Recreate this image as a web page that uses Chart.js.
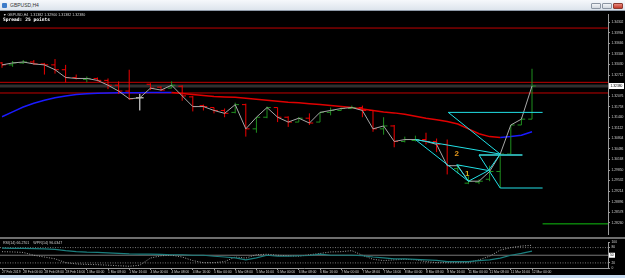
<!DOCTYPE html>
<html>
<head>
<meta charset="utf-8">
<script src="https://cdn.jsdelivr.net/npm/chart.js@4.4.1/dist/chart.umd.min.js"></script>
<style>
  html, body { margin: 0; padding: 0; background: #c5d9ee; }
  #win { position: relative; width: 625px; height: 278px; overflow: hidden; background: #c5d9ee; }
  #title { position: absolute; left: 0; top: 0; width: 625px; height: 11px; box-sizing: border-box;
           background: linear-gradient(#f6f8fb, #dde4ec); border-bottom: 1px solid #8f9aa8; }
  #title .ico { position: absolute; left: 2px; top: 3px; width: 5px; height: 5px; background: #3d7cc9; border-radius: 1px; }
  #title .txt { position: absolute; left: 10px; top: 1px; font: 5px "Liberation Sans", sans-serif; color: #333; line-height: 8px; }
  #title .btn { position: absolute; top: 3px; width: 10px; height: 6px; box-sizing: border-box;
                border: 1px solid #8c96a3; background: linear-gradient(#f2f4f7, #d3d9e0); border-radius: 1px; }
  #title .close { background: linear-gradient(#e8887c, #c23a2b); border-color: #8c3a30; }
  #main { position: absolute; left: 0; top: 11px; background: #000; }
  #sep { position: absolute; left: 0; top: 237px; width: 625px; height: 2px; background: #6e6e6e; }
  #ind { position: absolute; left: 0; top: 239px; background: #000; }
</style>
</head>
<body>
<div id="win">
  <div id="title">
    <div class="ico"></div><div class="txt">GBPUSD,H4</div>
    <div class="btn" style="left:591px"></div>
    <div class="btn" style="left:602px"></div>
    <div class="btn close" style="left:613px"></div>
  </div>
  <canvas id="main" width="625" height="227"></canvas>
  <div id="sep"></div>
  <canvas id="ind" width="625" height="36"></canvas>
</div>
<script>
// GBPUSD H4, 27 Feb 16:00 .. 12 Mar 00:00 (one entry per bar)
const opens  = [1.33075,1.33017,1.33075,1.33104,1.33046,1.33017,1.32871,1.32637,1.32579,1.32608,
                1.32550,1.32404,1.32228,1.32024,1.32433,1.32345,1.32316,1.32374,1.32053,1.31790,
                1.31732,1.31644,1.31586,1.31820,1.31090,1.31440,1.31732,1.31440,1.31294,1.31411,
                1.31294,1.31586,1.31644,1.31703,1.31732,1.31644,1.31090,1.31177,1.30710,1.30739,
                1.30768,1.30710,1.30622,1.29892,1.29454,1.29484,1.29571,1.29805,1.30330,1.31206,
                1.31382];
const highs  = [1.33104,1.33134,1.33163,1.33163,1.33075,1.33192,1.33017,1.32725,1.32666,1.32637,
                1.32608,1.32520,1.32871,1.32141,1.32462,1.32374,1.32520,1.32404,1.32082,1.31820,
                1.31732,1.31703,1.31878,1.31849,1.31440,1.31761,1.31732,1.31469,1.31440,1.31557,
                1.31586,1.31732,1.31732,1.31790,1.31790,1.31644,1.31440,1.31206,1.30856,1.30885,
                1.30973,1.30798,1.30768,1.30009,1.29659,1.29571,1.29980,1.30330,1.31206,1.31440,
                1.32900];
const lows   = [1.32929,1.32958,1.33046,1.33017,1.32725,1.32754,1.32491,1.32579,1.32491,1.32520,
                1.32287,1.32141,1.31966,1.31644,1.32258,1.32228,1.32316,1.31936,1.31615,1.31644,
                1.31557,1.31440,1.31557,1.30856,1.30973,1.31411,1.31294,1.31148,1.31294,1.31206,
                1.31294,1.31498,1.31644,1.31703,1.31440,1.31002,1.30914,1.30535,1.30681,1.30710,
                1.30622,1.30389,1.29717,1.29746,1.29425,1.29425,1.29513,1.29308,1.30301,1.31206,
                1.31382];
const closes = [1.33017,1.33075,1.33104,1.33046,1.33017,1.32871,1.32637,1.32608,1.32608,1.32550,
                1.32404,1.32228,1.31995,1.32024,1.32316,1.32258,1.32404,1.32082,1.31761,1.31761,
                1.31644,1.31557,1.31820,1.31090,1.31440,1.31732,1.31440,1.31294,1.31411,1.31265,
                1.31586,1.31644,1.31703,1.31732,1.31644,1.31090,1.31177,1.30710,1.30768,1.30768,
                1.30710,1.30622,1.29980,1.29980,1.29513,1.29513,1.29805,1.30330,1.31206,1.31382,
                1.32380];
// trend-coloured moving average
const maValues = [1.31455,1.31601,1.31747,1.31863,1.31951,1.32024,1.32082,1.32126,1.32147,1.32161,
                  1.32170,1.32176,1.32179,1.32181,1.32182,1.32184,1.32185,1.32155,1.32126,1.32097,
                  1.32068,1.32053,1.32039,1.32009,1.31980,1.31951,1.31922,1.31893,1.31878,1.31849,
                  1.31820,1.31790,1.31761,1.31732,1.31688,1.31644,1.31601,1.31571,1.31528,1.31469,
                  1.31411,1.31367,1.31309,1.31236,1.31090,1.30944,1.30856,1.30827,1.30856,1.30900,
                  1.31002];
// sub window
const rsiValues = [78,77,77,76,75,73,68,64,62,61,59,57,55,54,54,53,52,52,50,50,
                   46,43,40,32,40,50,46,46,48,49,54,50,50,50,48,43,40,36,36,34,
                   32,30,25,25,25,29,32,39,50,57,66];
const wprValues = [64,63,61,50,43,36,21,16,14,13,11,9,7,11,39,48,50,43,29,21,
                   21,25,43,39,52,54,50,48,46,52,57,63,64,68,50,34,29,32,34,32,
                   25,21,21,21,21,32,46,70,80,86,89];
const indLevels = [80, 50, 20];
const indTicks = [0, 20, 50, 80, 100];

// horizontal objects
const redLevels = [1.34126, 1.32491, 1.32170];
const greenLevel = 1.28228;
const greenStartBar = 51;
const bidPrice = 1.32380;

// drawn objects: [bar1, price1, bar2, price2]
const cyanLines = [
  [42.1, 1.31586, 51.0, 1.31586],
  [42.1, 1.31586, 47.0, 1.30330],
  [39.0, 1.30768, 47.0, 1.30330],
  [39.0, 1.30768, 44.0, 1.29513],
  [44.0, 1.29513, 45.9, 1.29834],
  [45.9, 1.29834, 47.0, 1.30330],
  [42.9, 1.30009, 45.9, 1.29834],
  [42.9, 1.30009, 44.0, 1.29513],
  [45.0, 1.30301, 47.0, 1.29308],
  [47.0, 1.29308, 51.0, 1.29308]
];
const tealLines = [[45.0, 1.30301, 49.1, 1.30301]];
const waveLabels = [
  { text: '2', bar: 42.9, price: 1.30330, color: '#e59a1c' },
  { text: '1', bar: 43.9, price: 1.29746, color: '#d9b21a' }
];

const timeLabels = ['27 Feb 2019','28 Feb 00:00','28 Feb 08:00','28 Feb 16:00','1 Mar 00:00','1 Mar 08:00',
  '1 Mar 16:00','4 Mar 00:00','4 Mar 08:00','4 Mar 16:00','5 Mar 00:00','5 Mar 08:00','5 Mar 16:00',
  '6 Mar 00:00','6 Mar 08:00','6 Mar 16:00','7 Mar 00:00','7 Mar 08:00','7 Mar 16:00','8 Mar 00:00',
  '8 Mar 08:00','8 Mar 16:00','11 Mar 00:00','11 Mar 08:00','11 Mar 16:00','12 Mar 00:00'];
const priceTicks = [1.34302,1.33984,1.33666,1.33348,1.33030,1.32712,1.32394,1.32076,1.31758,1.31440,
                    1.31122,1.30804,1.30486,1.30168,1.29850,1.29532,1.29214,1.28896,1.28578,1.28260];

const X_MIN = -0.19, X_MAX = 57.17;
const Y_MIN = 1.27907, Y_MAX = 1.34535;
const AXIS_W = 17;
const tickFont = { family: 'Liberation Sans', size: 3.3 };

function ohlcPoints(test) {
  const pts = [];
  closes.forEach((c, i) => {
    if (!test(opens[i], c)) return;
    pts.push({ x: i, y: lows[i] }, { x: i, y: highs[i] }, { x: i, y: null });
    pts.push({ x: i - 0.36, y: opens[i] }, { x: i, y: opens[i] }, { x: i, y: null });
    pts.push({ x: i, y: c }, { x: i + 0.36, y: c }, { x: i, y: null });
  });
  return pts;
}
function segPoints(list) {
  const pts = [];
  list.forEach(l => pts.push({ x: l[0], y: l[1] }, { x: l[2], y: l[3] }, { x: l[2], y: null }));
  return pts;
}
function hLine(v, from) { return [{ x: from === undefined ? X_MIN : from, y: v }, { x: X_MAX, y: v }]; }

const lineDs = (data, color, width, order, extra) => Object.assign({
  data, borderColor: color, borderWidth: width, pointRadius: 0, fill: false, order, spanGaps: false
}, extra || {});

const mainOverlay = {
  id: 'mainOverlay',
  afterDatasetsDraw(chart) {
    const { ctx, scales } = chart;
    ctx.save();
    waveLabels.forEach(w => {
      ctx.font = 'bold 8px "Liberation Sans"';
      ctx.fillStyle = w.color;
      ctx.textAlign = 'center';
      ctx.textBaseline = 'middle';
      ctx.fillText(w.text, scales.x.getPixelForValue(w.bar), scales.y.getPixelForValue(w.price));
    });
    ctx.restore();
  },
  afterDraw(chart) {
    const { ctx, scales } = chart;
    const n = closes.length - 1;
    ctx.save();
    ctx.fillStyle = '#d0d0d0';
    ctx.textBaseline = 'middle';
    ctx.textAlign = 'left';
    ctx.font = '3.6px "Liberation Sans"';
    ctx.fillText('\u25BC GBPUSD,H4  ' + [opens[n], highs[n], lows[n], closes[n]].map(v => v.toFixed(5)).join(' '), 3, 3.6);
    ctx.font = 'bold 4.6px "DejaVu Sans Mono"';
    ctx.fillStyle = '#ffffff';
    ctx.fillText('Spread: 25 points', 3, 9);
    // bid price tag on the axis
    const y = scales.y.getPixelForValue(bidPrice);
    const x0 = chart.chartArea.right + 1;
    ctx.fillStyle = '#ffffff';
    ctx.fillRect(x0, y - 3, 15, 6);
    ctx.fillStyle = '#000000';
    ctx.font = '3.3px "Liberation Sans"';
    ctx.fillText(bidPrice.toFixed(5), x0 + 1.5, y + 0.3);
    ctx.restore();
  }
};

new Chart(document.getElementById('main'), {
  type: 'line',
  data: {
    datasets: [
      lineDs(segPoints(tealLines), '#2aa6a6', 2, 1),
      lineDs(segPoints(cyanLines), '#22e0e6', 1, 0),
      lineDs(closes.map((c, i) => ({ x: i, y: c })), '#a8a8a8', 1, 2),
      lineDs(ohlcPoints((o, c) => c > o), '#1f8f1f', 1, 3),
      lineDs(ohlcPoints((o, c) => c < o), '#f00000', 1, 3),
      lineDs(ohlcPoints((o, c) => c === o), '#ffffff', 1, 3),
      lineDs(maValues.map((v, i) => ({ x: i, y: v })), '#e00000', 1.5, 4, {
        segment: { borderColor: s => s.p1.parsed.y >= s.p0.parsed.y ? '#1a1aff' : '#e00000' }
      }),
      ...redLevels.map(v => lineDs(hLine(v), '#c00000', 1, 5)),
      lineDs(hLine(greenLevel, greenStartBar), '#10c010', 1, 5),
      lineDs(hLine(bidPrice), '#303030', 3, 6)
    ]
  },
  options: {
    responsive: false, animation: false, devicePixelRatio: 1,
    layout: { padding: 0 },
    plugins: { legend: { display: false }, tooltip: { enabled: false } },
    elements: { point: { radius: 0 }, line: { tension: 0 } },
    scales: {
      x: { type: 'linear', display: false, min: X_MIN, max: X_MAX },
      y: {
        position: 'right', min: Y_MIN, max: Y_MAX,
        afterFit: s => { s.width = AXIS_W; },
        afterBuildTicks: s => { s.ticks = priceTicks.map(v => ({ value: v })); },
        ticks: { font: tickFont, color: '#d0d0d0', padding: 1.5, autoSkip: false,
                 callback: v => v.toFixed(5) },
        grid: { drawOnChartArea: false, tickLength: 2, color: '#9a9a9a' },
        border: { color: '#9a9a9a' }
      }
    }
  },
  plugins: [mainOverlay]
});

const indOverlay = {
  id: 'indOverlay',
  afterDraw(chart) {
    const { ctx, scales } = chart;
    ctx.save();
    ctx.fillStyle = '#d0d0d0';
    ctx.font = '3.6px "Liberation Sans"';
    ctx.textBaseline = 'middle';
    ctx.fillText('RSI(14) ' + '66.2701' + '    WPR(14) ' + '96.0347', 3, 3.5);
    const y = scales.y.getPixelForValue(50);
    const x0 = chart.chartArea.right + 1;
    ctx.fillStyle = '#ffffff';
    ctx.fillRect(x0, y - 2.5, 6, 5);
    ctx.fillStyle = '#000';
    ctx.font = '3.3px "Liberation Sans"';
    ctx.fillText('50', x0 + 1, y + 0.3);
    ctx.restore();
  }
};

new Chart(document.getElementById('ind'), {
  type: 'line',
  data: {
    datasets: [
      lineDs(rsiValues.map((v, i) => ({ x: i, y: v })), '#1b7f7f', 1.2, 0),
      lineDs(wprValues.map((v, i) => ({ x: i, y: v })), '#a0a0a0', 1, 1, { borderDash: [1, 1.5] }),
      lineDs(hLine(indLevels[0]), '#777777', 1, 2, { borderDash: [1, 1.5] }),
      lineDs(hLine(indLevels[1]), '#777777', 1, 2),
      lineDs(hLine(indLevels[2]), '#777777', 1, 2, { borderDash: [1, 1.5] })
    ]
  },
  options: {
    responsive: false, animation: false, devicePixelRatio: 1,
    layout: { padding: { top: 1 } },
    plugins: { legend: { display: false }, tooltip: { enabled: false } },
    elements: { point: { radius: 0 }, line: { tension: 0 } },
    scales: {
      x: {
        type: 'linear', min: X_MIN, max: X_MAX,
        afterFit: s => { s.height = 7; },
        afterBuildTicks: s => { s.ticks = timeLabels.map((t, k) => ({ value: k * 2 })); },
        ticks: { font: tickFont, color: '#d0d0d0', padding: 0.5, align: 'start', maxRotation: 0,
                 autoSkip: false, callback: v => timeLabels[v / 2] },
        grid: { drawOnChartArea: false, tickLength: 2, color: '#9a9a9a' },
        border: { color: '#9a9a9a' }
      },
      y: {
        position: 'right', min: 0, max: 100,
        afterFit: s => { s.width = AXIS_W; },
        afterBuildTicks: s => { s.ticks = indTicks.map(v => ({ value: v })); },
        ticks: { font: tickFont, color: '#d0d0d0', padding: 1.5, autoSkip: false },
        grid: { drawOnChartArea: false, tickLength: 2, color: '#9a9a9a' },
        border: { color: '#9a9a9a' }
      }
    }
  },
  plugins: [indOverlay]
});
</script>
</body>
</html>
